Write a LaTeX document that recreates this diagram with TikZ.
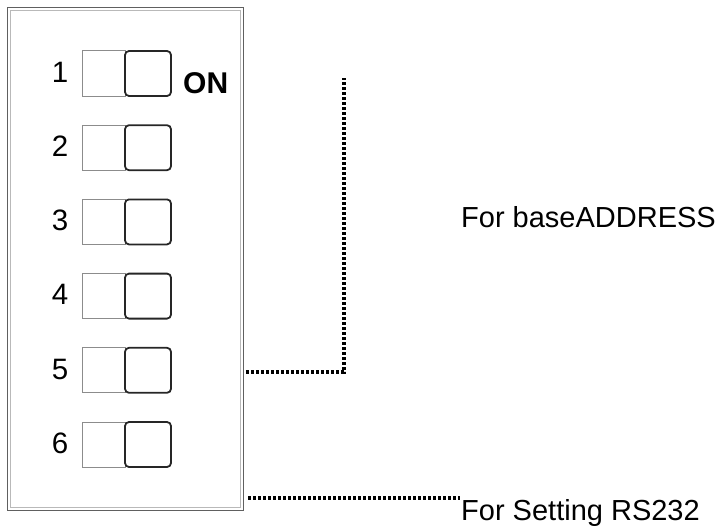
\documentclass[tikz,border=0pt]{standalone}
\usepackage{fontspec}
\setmainfont{Liberation Sans}
\begin{document}
\begin{tikzpicture}[x=1pt,y=-1pt,
  rimout/.style={draw=gray!75!black,line width=0.9pt},
  rimin/.style={draw=gray!55,line width=0.9pt},
  slot/.style={draw=gray!90,line width=1pt},
  knob/.style={draw=black!85,line width=1.8pt,rounded corners=4pt},
  dotline/.style={line width=3.3pt,dash pattern=on 3pt off 2pt},
  lbl/.style={inner sep=0pt,anchor=base west,font=\fontsize{29}{31}\selectfont},
  num/.style={inner sep=0pt,anchor=base,font=\fontsize{29.5}{31}\selectfont}]
\useasboundingbox (0,0) rectangle (720,527);
\node[minimum width=233.5pt,minimum height=500pt,inner sep=0pt,outer sep=0pt,anchor=north west] (box) at (8.7,8.7) {};
\draw[rimout] ([shift={(-1.3,-1.3)}]box.north west) rectangle ([shift={(1.3,1.3)}]box.south east);
\draw[rimin] ([shift={(1.3,1.3)}]box.north west) rectangle ([shift={(-1.3,-1.3)}]box.south east);
\foreach \i in {1,...,6}{
  \pgfmathsetmacro{\yc}{73.5+74.2*(\i-1)}
  \draw[slot] (82,\yc-22.5) rectangle (125,\yc+22.5);
  \node[knob,minimum width=46pt,minimum height=45pt,inner sep=0pt] (k\i) at (148,\yc) {};
  \node[num] (n\i) at (60,\yc+8.7) {\i};
}
\node[lbl,font=\fontsize{30}{32}\selectfont\bfseries] (on) at (183,93) {ON};
\node[lbl] (addr) at (461,227) {For baseADDRESS};
\node[lbl] (rs) at (461,520) {For Setting RS232};
\coordinate (a0) at (box.east |- 0,372);
\coordinate (a1) at (344,372);
\coordinate (a2) at (344,78);
\coordinate (b0) at (box.east |- 0,498);
\coordinate (b1) at (460,498);
\draw[dotline] ([xshift=4pt]a0) -- (a1) -- (a2);
\draw[dotline] ([xshift=6pt]b0) -- (b1);
\end{tikzpicture}
\end{document}
